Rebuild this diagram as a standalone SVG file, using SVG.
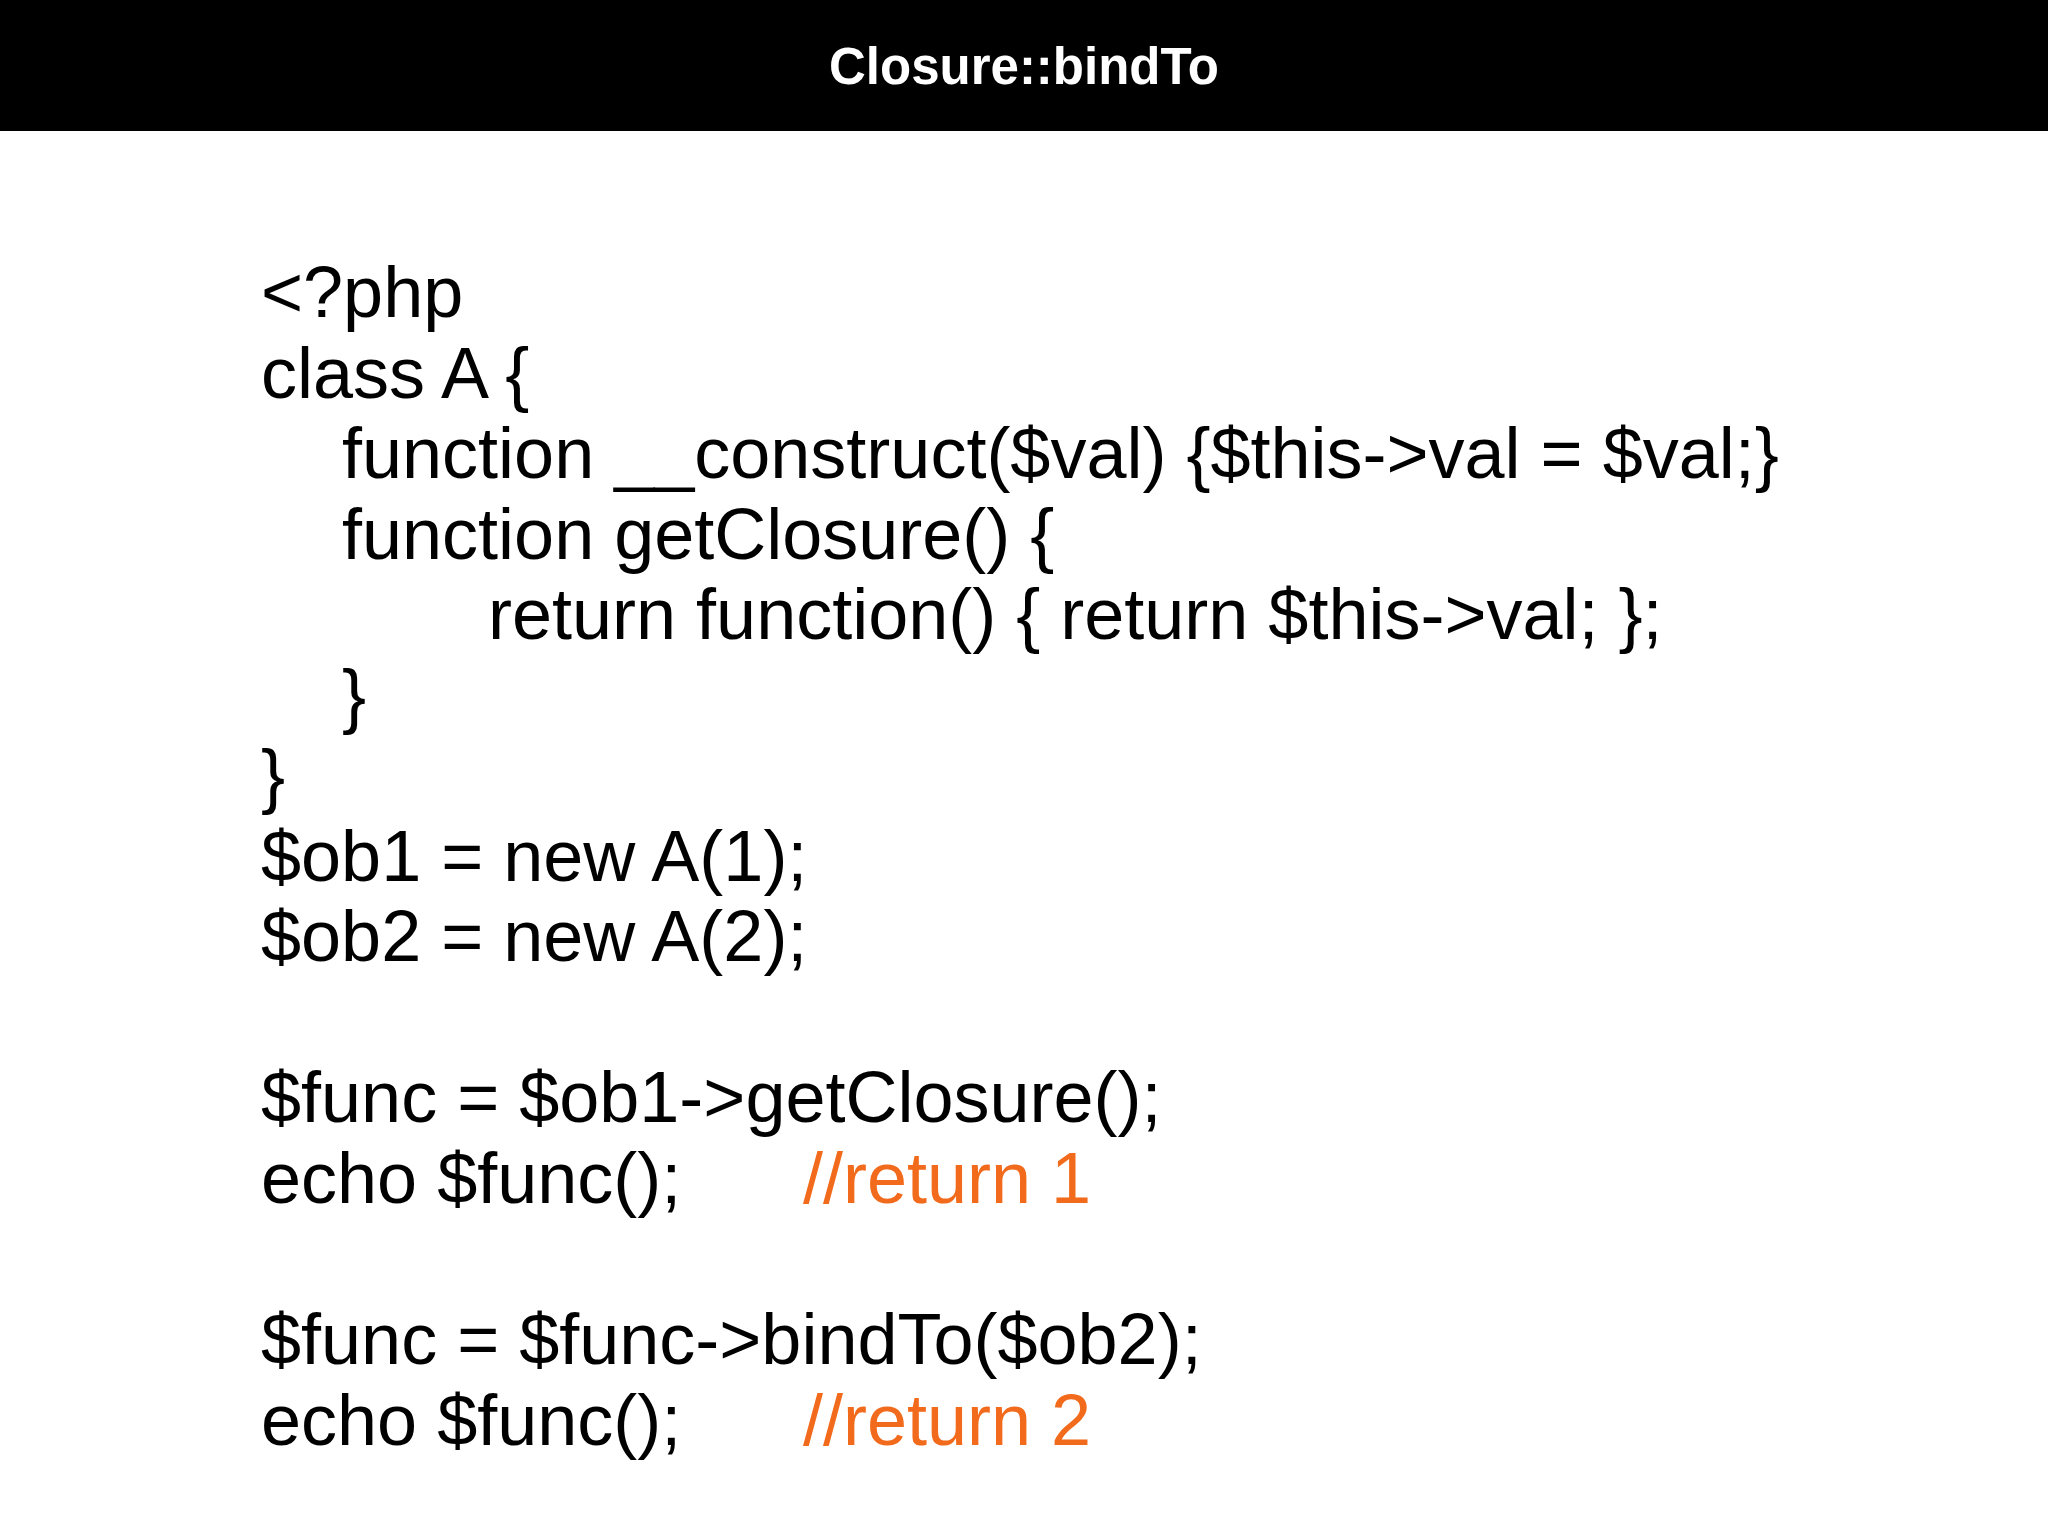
<svg xmlns="http://www.w3.org/2000/svg" width="2048" height="1535" viewBox="0 0 2048 1535">
<style>
.c{font-family:"Liberation Sans",Arial,sans-serif;font-size:72px;fill:#000}
.o{fill:#f26a1b}
.t{font-family:"Liberation Sans",Arial,sans-serif;font-size:51px;font-weight:bold;fill:#fff}
</style>
<rect width="2048" height="1535" fill="#fff"/>
<g id="header">
<rect x="0" y="0" width="2048" height="131" fill="#000"/>
<text class="t" x="1024" y="84" text-anchor="middle">Closure::bindTo</text>
</g>
<g id="code" xml:space="preserve">
<text class="c" x="261" y="317">&lt;?php</text>
<text class="c" x="261" y="398">class A {</text>
<text class="c" x="342" y="478">function __construct($val) {$this-&gt;val = $val;}</text>
<text class="c" x="342" y="559">function getClosure() {</text>
<text class="c" x="488" y="639">return function() { return $this-&gt;val; };</text>
<text class="c" x="342" y="720">}</text>
<text class="c" x="261" y="800">}</text>
<text class="c" x="261" y="881">$ob1 = new A(1);</text>
<text class="c" x="261" y="961">$ob2 = new A(2);</text>
<text class="c" x="261" y="1122">$func = $ob1-&gt;getClosure();</text>
<text class="c" x="261" y="1203">echo $func();</text>
<text class="c o" x="803" y="1203">//return 1</text>
<text class="c" x="261" y="1364">$func = $func-&gt;bindTo($ob2);</text>
<text class="c" x="261" y="1445">echo $func();</text>
<text class="c o" x="803" y="1445">//return 2</text>
</g>
</svg>
